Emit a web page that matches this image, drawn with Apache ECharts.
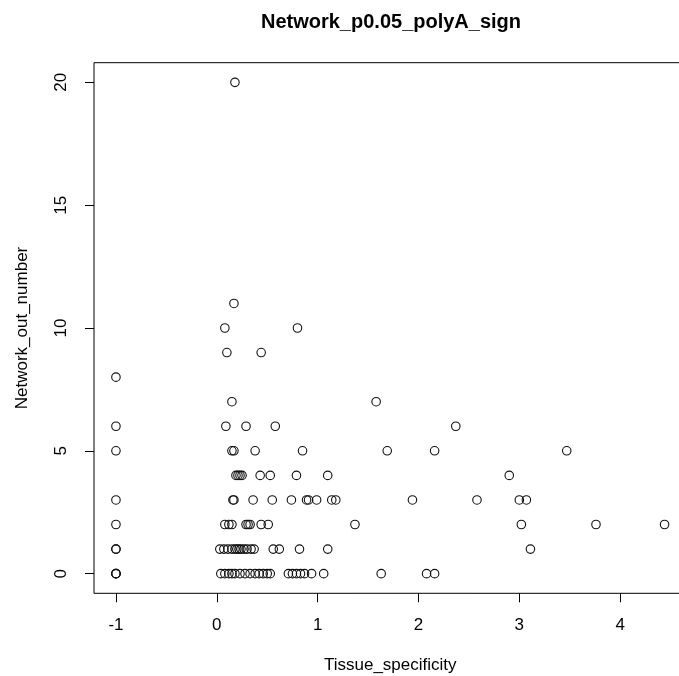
<!DOCTYPE html>
<html>
<head>
<meta charset="utf-8">
<script src="https://cdn.jsdelivr.net/npm/echarts@6/dist/echarts.min.js"></script>
<style>
  html, body { margin: 0; padding: 0; background: #fff; }
  #chart { width: 679px; height: 676px; }
</style>
</head>
<body>
<div id="chart"></div>
<script>
// Each point: tissue specificity (x) and number of outgoing network edges (y)
const tissueSpecificity = [
  0.18,
  0.17,
  0.08, 0.80,
  0.10, 0.44,
  -1,
  0.15, 1.58,
  -1, 0.09, 0.29, 0.58, 2.37,
  -1, 0.15, 0.17, 0.38, 0.85, 1.69, 2.16, 3.47,
  0.19, 0.21, 0.23, 0.25, 0.43, 0.53, 0.79, 1.10, 2.90,
  -1, 0.16, 0.17, 0.36, 0.55, 0.74, 0.89, 0.91, 0.99, 1.14, 1.18, 1.94, 2.58, 3.00, 3.07,
  -1, 0.08, 0.12, 0.15, 0.29, 0.31, 0.33, 0.44, 0.51, 1.37, 3.02, 3.76, 4.44,
  -1, -1, 0.03, 0.07, 0.11, 0.15, 0.18, 0.20, 0.22, 0.24, 0.27, 0.30, 0.34, 0.37, 0.56, 0.62, 0.82, 1.10, 3.11,
  -1, -1, -1, 0.04, 0.08, 0.12, 0.15, 0.18, 0.23, 0.28, 0.33, 0.38, 0.42, 0.46, 0.50, 0.53,
  0.71, 0.75, 0.79, 0.83, 0.87, 0.94, 1.06, 1.63, 2.08, 2.16
];
const networkOutNumber = [
  20,
  11,
  10, 10,
  9, 9,
  8,
  7, 7,
  6, 6, 6, 6, 6,
  5, 5, 5, 5, 5, 5, 5, 5,
  4, 4, 4, 4, 4, 4, 4, 4, 4,
  3, 3, 3, 3, 3, 3, 3, 3, 3, 3, 3, 3, 3, 3, 3,
  2, 2, 2, 2, 2, 2, 2, 2, 2, 2, 2, 2, 2,
  1, 1, 1, 1, 1, 1, 1, 1, 1, 1, 1, 1, 1, 1, 1, 1, 1, 1, 1,
  0, 0, 0, 0, 0, 0, 0, 0, 0, 0, 0, 0, 0, 0, 0, 0,
  0, 0, 0, 0, 0, 0, 0, 0, 0, 0
];
const xTicks = [-1, 0, 1, 2, 3, 4];
const yTicks = [0, 5, 10, 15, 20];

const chartTitle = 'Network_p0.05_polyA_sign';
const xName = 'Tissue_specificity';
const yName = 'Network_out_number';

// R-style axis limits: data range padded by 4% on each side
function padRange(values) {
  const lo = Math.min(...values), hi = Math.max(...values);
  const pad = (hi - lo) * 0.04;
  return [lo - pad, hi + pad];
}
const [xMin, xMax] = padRange(tissueSpecificity);
const [yMin, yMax] = padRange(networkOutNumber);

const points = tissueSpecificity.map((x, i) => [x, networkOutNumber[i]]);

const FONT = '"Liberation Sans", Arial, Helvetica, sans-serif';
const chart = echarts.init(document.getElementById('chart'), null, { renderer: 'canvas' });

const axisCommon = {
  type: 'value',
  nameLocation: 'middle',
  nameTextStyle: { fontFamily: FONT, fontSize: 17, color: '#000' },
  axisLine: { show: false, onZero: false },
  axisTick: { show: true, inside: false, length: 9, lineStyle: { color: '#000', width: 1 } },
  splitLine: { show: false },
  axisLabel: { fontFamily: FONT, fontSize: 17, color: '#000', margin: 24 }
};

chart.setOption({
  animation: false,
  backgroundColor: '#fff',
  title: {
    text: chartTitle,
    left: 391,
    top: 12,
    padding: 0,
    textAlign: 'center',
    textStyle: { fontFamily: FONT, fontSize: 20, fontWeight: 'bold', color: '#000' }
  },
  grid: {
    show: true,
    left: 94,
    right: -7.5,
    top: 62.7,
    bottom: 82.7,
    borderColor: '#000',
    borderWidth: 1,
    backgroundColor: 'transparent',
    containLabel: false,
    outerBoundsMode: 'none'
  },
  xAxis: Object.assign({}, axisCommon, {
    min: xMin,
    max: xMax,
    name: xName,
    nameGap: 64,
    axisTick: Object.assign({}, axisCommon.axisTick, { customValues: xTicks }),
    axisLabel: Object.assign({}, axisCommon.axisLabel, { customValues: xTicks })
  }),
  yAxis: Object.assign({}, axisCommon, {
    min: yMin,
    max: yMax,
    name: yName,
    nameGap: 63,
    axisTick: Object.assign({}, axisCommon.axisTick, { customValues: yTicks }),
    axisLabel: Object.assign({}, axisCommon.axisLabel, { customValues: yTicks, rotate: 90 })
  }),
  series: [{
    type: 'scatter',
    data: points,
    symbol: 'circle',
    symbolSize: 8.5,
    itemStyle: { color: 'rgba(0,0,0,0)', borderColor: '#111', borderWidth: 1.1, opacity: 1 },
    emphasis: { disabled: true }
  }]
});
</script>
</body>
</html>
